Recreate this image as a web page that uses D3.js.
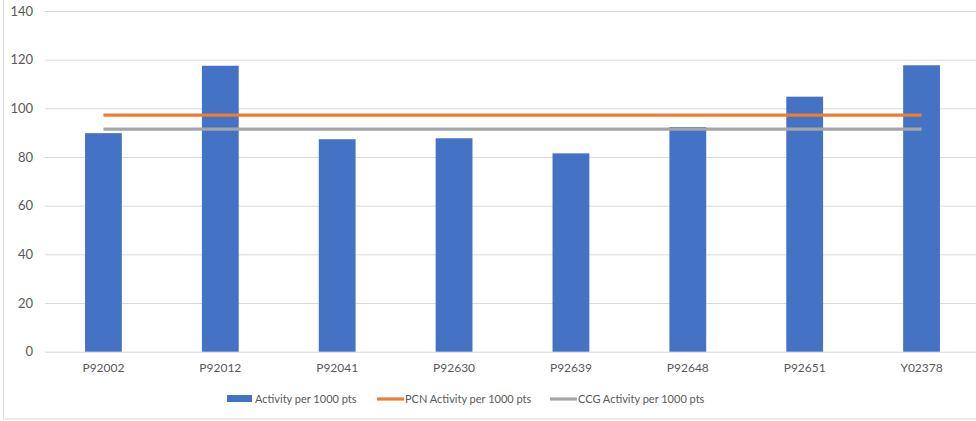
<!DOCTYPE html>
<html>
<head>
<meta charset="utf-8">
<script src="https://cdnjs.cloudflare.com/ajax/libs/d3/7.8.5/d3.min.js"></script>
<style>
  body { margin: 0; background: #fff; }
  svg text { font-family: Lato, "Open Sans", sans-serif; fill: #595959; }
</style>
</head>
<body>
<script>
// chart data
var practices = ["P92002", "P92012", "P92041", "P92630", "P92639", "P92648", "P92651", "Y02378"];
var activity = [89.8, 117.5, 87.3, 87.7, 81.5, 92.3, 104.8, 117.7];
var pcnActivity = [97.2, 97.2, 97.2, 97.2, 97.2, 97.2, 97.2, 97.2];
var ccgActivity = [91.5, 91.5, 91.5, 91.5, 91.5, 91.5, 91.5, 91.5];
var yTicks = [0, 20, 40, 60, 80, 100, 120, 140];
var seriesNames = ["Activity per 1000 pts", "PCN Activity per 1000 pts", "CCG Activity per 1000 pts"];
var colours = ["#4472c4", "#ed7d31", "#a5a5a5"];

var w = 976, h = 421;
var margin = { top: 11, left: 45, right: -4, bottom: 69 };

var svg = d3.select("body").append("svg")
    .attr("width", w)
    .attr("height", h);

// outer chart border
svg.append("rect")
    .attr("x", 3.5).attr("y", -1)
    .attr("width", 990).attr("height", 420)
    .attr("fill", "none")
    .attr("stroke", "#d9d9d9");

var xScale = d3.scaleBand()
    .domain(practices)
    .range([margin.left, w - margin.right])
    .paddingInner(0.685)
    .paddingOuter(0.3425);

var yScale = d3.scaleLinear()
    .domain([0, 140])
    .range([h - margin.bottom - 0.3, margin.top]);

// gridlines + y labels
var yAxis = svg.append("g")
    .attr("transform", "translate(" + margin.left + ",0)")
    .call(d3.axisLeft(yScale).tickValues(yTicks).tickSize(-(w - margin.right - margin.left)).tickPadding(12));
yAxis.select(".domain").remove();
yAxis.selectAll("line").attr("stroke", "#d9d9d9");
yAxis.selectAll("text").style("font-size", "13px");

// bars
svg.selectAll("rect.bar").data(activity).enter().append("rect")
    .attr("class", "bar")
    .attr("x", function(d, i) { return xScale(practices[i]); })
    .attr("width", xScale.bandwidth())
    .attr("y", function(d) { return yScale(d); })
    .attr("height", function(d) { return yScale(0) - yScale(d); })
    .attr("fill", colours[0]);

// x labels
var xAxis = svg.append("g")
    .attr("transform", "translate(0," + yScale(0) + ")")
    .call(d3.axisBottom(xScale).tickSize(0).tickPadding(12));
xAxis.select(".domain").remove();
xAxis.selectAll("text").style("font-size", "12px");

// average lines
var line = d3.line()
    .x(function(d, i) { return xScale(practices[i]) + xScale.bandwidth() / 2; })
    .y(function(d) { return yScale(d); });

[pcnActivity, ccgActivity].forEach(function(s, k) {
  svg.append("path")
    .datum(s)
    .attr("d", line)
    .attr("fill", "none")
    .attr("stroke", colours[k + 1])
    .attr("stroke-width", 3.2);
});

// legend
var legendX = [227, 377, 550];
var legend = svg.append("g");
seriesNames.forEach(function(name, i) {
  if (i == 0) {
    legend.append("rect")
      .attr("x", legendX[i]).attr("y", 395)
      .attr("width", 25).attr("height", 7)
      .attr("fill", colours[i]);
  } else {
    legend.append("line")
      .attr("x1", legendX[i]).attr("x2", legendX[i] + 27)
      .attr("y1", 399).attr("y2", 399)
      .attr("stroke", colours[i])
      .attr("stroke-width", 3.2);
  }
  legend.append("text")
    .attr("x", legendX[i] + 28)
    .attr("y", 403)
    .style("font-size", "11px")
    .text(name);
});
</script>
</body>
</html>
